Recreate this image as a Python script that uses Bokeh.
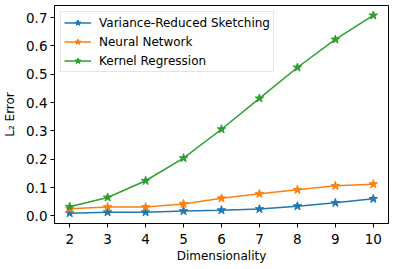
from bokeh.plotting import figure
from bokeh.models import FixedTicker, Range1d, Legend, NumeralTickFormatter
from bokeh.embed import file_html
from bokeh.resources import INLINE

dims = [2, 3, 4, 5, 6, 7, 8, 9, 10]
vrs = [0.0095, 0.013, 0.013, 0.017, 0.020, 0.024, 0.034, 0.046, 0.060]
nn = [0.025, 0.031, 0.031, 0.042, 0.062, 0.078, 0.092, 0.106, 0.112]
kr = [0.032, 0.065, 0.124, 0.204, 0.306, 0.415, 0.524, 0.623, 0.708]
series_names = ["Variance-Reduced Sketching", "Neural Network", "Kernel Regression"]
colors = ["#1f77b4", "#ff7f0e", "#2ca02c"]
x_ticks = [2, 3, 4, 5, 6, 7, 8, 9, 10]
y_ticks = [0.0, 0.1, 0.2, 0.3, 0.4, 0.5, 0.6, 0.7]

FONT = "DejaVu Sans"

p = figure(width=389, height=261, output_backend="svg", toolbar_location=None,
           x_range=Range1d(1.6, 10.4), y_range=Range1d(-0.027, 0.743),
           min_border_left=48, min_border_right=7, min_border_top=5, min_border_bottom=38)
p.frame_width = 334
p.frame_height = 218

p.xgrid.visible = False
p.ygrid.visible = False
p.outline_line_color = "black"
p.outline_line_width = 1
p.outline_line_alpha = 1
p.background_fill_color = "white"
p.border_fill_color = "white"

for ax in (p.xaxis[0], p.yaxis[0]):
    ax.axis_line_color = "black"
    ax.major_tick_line_color = "black"
    ax.minor_tick_line_color = None
    ax.major_tick_out = 4
    ax.major_tick_in = 0
    ax.major_label_text_font = FONT
    ax.major_label_text_font_size = "13.5px"
    ax.major_label_text_color = "black"
    ax.axis_label_text_font = FONT
    ax.axis_label_text_font_size = "12px"
    ax.axis_label_text_font_style = "normal"
    ax.axis_label_text_color = "black"
    ax.major_label_standoff = 3

p.xaxis[0].major_label_standoff = 6
p.xaxis[0].ticker = FixedTicker(ticks=x_ticks)
p.yaxis[0].ticker = FixedTicker(ticks=y_ticks)
p.yaxis[0].formatter = NumeralTickFormatter(format="0.0")
p.xaxis[0].axis_label = "Dimensionality"
p.yaxis[0].axis_label = "L₂ Error"
p.xaxis[0].axis_label_standoff = 2
p.yaxis[0].axis_label_standoff = 6

items = []
for name, ys, c in zip(series_names, [vrs, nn, kr], colors):
    l = p.line(dims, ys, line_color=c, line_width=1.5)
    s = p.scatter(dims, ys, marker="star", size=9, fill_color=c, line_color=c)
    items.append((name, [l, s]))

legend = Legend(items=items, location="top_left")
legend.label_text_font = FONT
legend.label_text_font_size = "12px"
legend.label_text_color = "black"
legend.border_line_color = "#cccccc"
legend.border_line_width = 1
legend.background_fill_alpha = 0.8
legend.padding = 3
legend.margin = 6
legend.spacing = 4
legend.label_height = 15
legend.glyph_height = 15
legend.glyph_width = 27
legend.label_standoff = 8
p.add_layout(legend)

open("out.html", "w").write(file_html(p, INLINE))
